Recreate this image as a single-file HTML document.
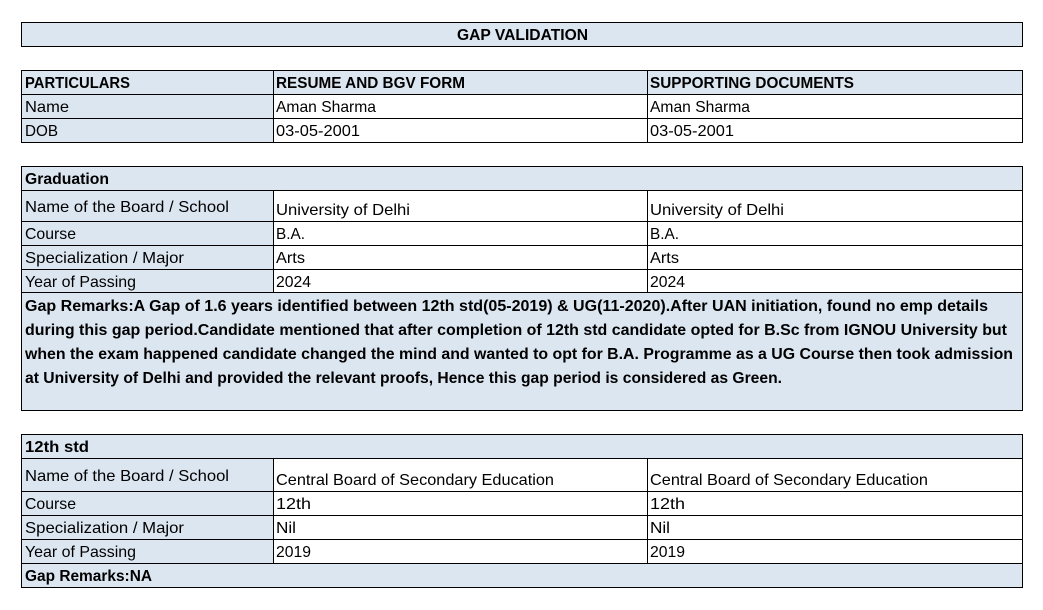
<!DOCTYPE html>
<html><head><meta charset="utf-8"><style>
html,body{margin:0;padding:0;background:#fff;}
svg{display:block}
text{font-family:"Liberation Sans",Arial,sans-serif;font-size:16px;fill:#000}
.b{font-weight:bold}
</style></head><body>
<svg width="1043" height="610" xmlns="http://www.w3.org/2000/svg">
<g fill="#dce6f1">
<rect x="21" y="22" width="1002" height="24"/>
<rect x="21" y="70" width="1002" height="24"/>
<rect x="21" y="94" width="252" height="48"/>
<rect x="21" y="166" width="1002" height="24"/>
<rect x="21" y="190" width="252" height="102"/>
<rect x="21" y="292" width="1002" height="118"/>
<rect x="21" y="434" width="1002" height="24"/>
<rect x="21" y="458" width="252" height="105"/>
<rect x="21" y="563" width="1002" height="25"/>
</g>
<g stroke="#000" stroke-width="1" fill="none" shape-rendering="crispEdges">
<rect x="21.5" y="22.5" width="1001" height="24"/>
<rect x="21.5" y="70.5" width="1001" height="72"/>
<line x1="21" y1="94.5" x2="1023" y2="94.5"/><line x1="21" y1="118.5" x2="1023" y2="118.5"/>
<line x1="273.5" y1="70" x2="273.5" y2="142"/><line x1="647.5" y1="70" x2="647.5" y2="142"/>
<rect x="21.5" y="166.5" width="1001" height="244"/>
<line x1="21" y1="190.5" x2="1023" y2="190.5"/><line x1="21" y1="221.5" x2="1023" y2="221.5"/>
<line x1="21" y1="245.5" x2="1023" y2="245.5"/><line x1="21" y1="269.5" x2="1023" y2="269.5"/>
<line x1="21" y1="292.5" x2="1023" y2="292.5"/>
<line x1="273.5" y1="190" x2="273.5" y2="292"/><line x1="647.5" y1="190" x2="647.5" y2="292"/>
<rect x="21.5" y="434.5" width="1001" height="153"/>
<line x1="21" y1="458.5" x2="1023" y2="458.5"/><line x1="21" y1="491.5" x2="1023" y2="491.5"/>
<line x1="21" y1="515.5" x2="1023" y2="515.5"/><line x1="21" y1="539.5" x2="1023" y2="539.5"/>
<line x1="21" y1="563.5" x2="1023" y2="563.5"/>
<line x1="273.5" y1="458" x2="273.5" y2="563"/><line x1="647.5" y1="458" x2="647.5" y2="563"/>
</g>
<g lengthAdjust="spacingAndGlyphs">
<text class="b" x="457" y="40" textLength="131" lengthAdjust="spacingAndGlyphs">GAP VALIDATION</text>
<text class="b" x="25" y="88" textLength="105" lengthAdjust="spacingAndGlyphs">PARTICULARS</text>
<text class="b" x="276" y="88" textLength="189" lengthAdjust="spacingAndGlyphs">RESUME AND BGV FORM</text>
<text class="b" x="650" y="88" textLength="204" lengthAdjust="spacingAndGlyphs">SUPPORTING DOCUMENTS</text>
<text x="25" y="112" textLength="44" lengthAdjust="spacingAndGlyphs">Name</text><text x="276" y="112" textLength="100" lengthAdjust="spacingAndGlyphs">Aman Sharma</text><text x="650" y="112" textLength="100" lengthAdjust="spacingAndGlyphs">Aman Sharma</text>
<text x="25" y="136" textLength="33" lengthAdjust="spacingAndGlyphs">DOB</text><text x="276" y="136" textLength="84" lengthAdjust="spacingAndGlyphs">03-05-2001</text><text x="650" y="136" textLength="84" lengthAdjust="spacingAndGlyphs">03-05-2001</text>
<text class="b" x="25" y="184" textLength="84" lengthAdjust="spacingAndGlyphs">Graduation</text>
<text x="25" y="212" textLength="204" lengthAdjust="spacingAndGlyphs">Name of the Board / School</text>
<text x="276" y="215" textLength="134" lengthAdjust="spacingAndGlyphs">University of Delhi</text><text x="650" y="215" textLength="134" lengthAdjust="spacingAndGlyphs">University of Delhi</text>
<text x="25" y="239" textLength="51" lengthAdjust="spacingAndGlyphs">Course</text><text x="276" y="239" textLength="29" lengthAdjust="spacingAndGlyphs">B.A.</text><text x="650" y="239" textLength="29" lengthAdjust="spacingAndGlyphs">B.A.</text>
<text x="25" y="263" textLength="159" lengthAdjust="spacingAndGlyphs">Specialization / Major</text><text x="276" y="263" textLength="29" lengthAdjust="spacingAndGlyphs">Arts</text><text x="650" y="263" textLength="29" lengthAdjust="spacingAndGlyphs">Arts</text>
<text x="25" y="287" textLength="111" lengthAdjust="spacingAndGlyphs">Year of Passing</text><text x="276" y="287" textLength="35" lengthAdjust="spacingAndGlyphs">2024</text><text x="650" y="287" textLength="35" lengthAdjust="spacingAndGlyphs">2024</text>
<text class="b" x="25" y="311" textLength="963" lengthAdjust="spacingAndGlyphs">Gap Remarks:A Gap of 1.6 years identified between 12th std(05-2019) &amp; UG(11-2020).After UAN initiation, found no emp details</text>
<text class="b" x="25" y="335" textLength="982" lengthAdjust="spacingAndGlyphs">during this gap period.Candidate mentioned that after completion of 12th std candidate opted for B.Sc from IGNOU University but</text>
<text class="b" x="25" y="359" textLength="988" lengthAdjust="spacingAndGlyphs">when the exam happened candidate changed the mind and wanted to opt for B.A. Programme as a UG Course then took admission</text>
<text class="b" x="25" y="383" textLength="757" lengthAdjust="spacingAndGlyphs">at University of Delhi and provided the relevant proofs, Hence this gap period is considered as Green.</text>
<text class="b" x="25" y="452" textLength="64" lengthAdjust="spacingAndGlyphs">12th std</text>
<text x="25" y="481" textLength="204" lengthAdjust="spacingAndGlyphs">Name of the Board / School</text>
<text x="276" y="485" textLength="278" lengthAdjust="spacingAndGlyphs">Central Board of Secondary Education</text><text x="650" y="485" textLength="278" lengthAdjust="spacingAndGlyphs">Central Board of Secondary Education</text>
<text x="25" y="509" textLength="51" lengthAdjust="spacingAndGlyphs">Course</text><text x="276" y="509" textLength="35" lengthAdjust="spacingAndGlyphs">12th</text><text x="650" y="509" textLength="35" lengthAdjust="spacingAndGlyphs">12th</text>
<text x="25" y="533" textLength="159" lengthAdjust="spacingAndGlyphs">Specialization / Major</text><text x="276" y="533" textLength="20" lengthAdjust="spacingAndGlyphs">Nil</text><text x="650" y="533" textLength="20" lengthAdjust="spacingAndGlyphs">Nil</text>
<text x="25" y="557" textLength="111" lengthAdjust="spacingAndGlyphs">Year of Passing</text><text x="276" y="557" textLength="35" lengthAdjust="spacingAndGlyphs">2019</text><text x="650" y="557" textLength="35" lengthAdjust="spacingAndGlyphs">2019</text>
<text class="b" x="25" y="581" textLength="127" lengthAdjust="spacingAndGlyphs">Gap Remarks:NA</text>
</g>
</svg>
</body></html>
